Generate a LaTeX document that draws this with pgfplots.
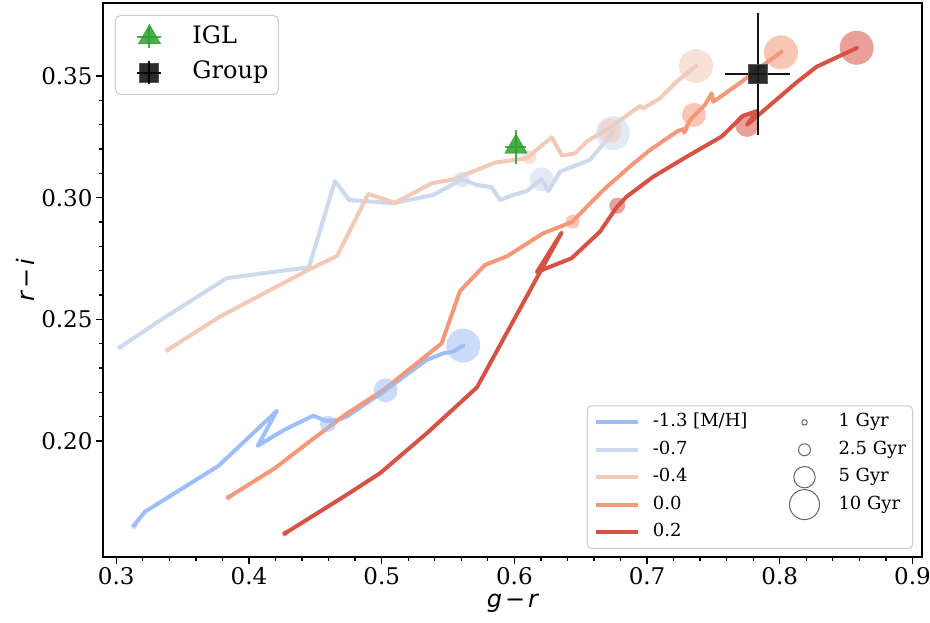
\documentclass[border=0pt]{standalone}
\usepackage{fontspec}
\setmainfont{DejaVu Serif}
\newfontfamily\dvsans{DejaVu Sans}
\usepackage{pgfplots}
\pgfplotsset{compat=1.18}

\definecolor{cA}{RGB}{158,190,250}
\definecolor{cB}{RGB}{205,217,236}
\definecolor{cC}{RGB}{242,202,183}
\definecolor{cD}{RGB}{244,152,122}
\definecolor{cE}{RGB}{214,82,68}
\definecolor{iglgreen}{RGB}{44,160,44}
\definecolor{legedge}{RGB}{204,204,204}
\definecolor{sqfill}{RGB}{26,26,26}
\definecolor{sqedge}{RGB}{80,80,80}

\pgfplotsset{
  base/.style={scale only axis, width=819pt, height=554pt,
    xmin=0.29, xmax=0.9072, ymin=0.1523, ymax=0.3800,
    at={(0pt,0pt)}, anchor=south west},
  circ/.style 2 args={only marks, mark=*, mark size=#2, forget plot,
    color=#1, draw=#1, fill=#1,
    mark options={draw=#1, fill=#1, draw opacity=0, fill opacity=0.55, line width=0pt}},
  ln/.style={no markers, forget plot, color=#1, line width=4pt,
    line cap=round, line join=round},
  agecirc/.style={legend image code/.code={
    \path[draw=none, fill=none] (0pt,-3pt) rectangle (42pt,3pt);
    \draw[overlay, draw=black!60, fill=none, line width=1pt] (21pt,0pt) circle (#1);}},
}

\begin{document}
\begin{tikzpicture}
\begin{axis}[base,
  axis line style={line width=1.6pt},
  tick align=outside, xtick pos=bottom, ytick pos=left,
  major tick length=7pt, minor tick length=4pt,
  every tick/.style={black, line width=1.3pt},
  xtick={0.3,0.4,0.5,0.6,0.7,0.8,0.9},
  ytick={0.20,0.25,0.30,0.35},
  minor x tick num=4, minor y tick num=4,
  xticklabel style={/pgf/number format/.cd, fixed, fixed zerofill, precision=1, assume math mode=true},
  yticklabel style={/pgf/number format/.cd, fixed, fixed zerofill, precision=2, assume math mode=true},
  tick label style={font=\fontsize{23}{27}\selectfont},
  xlabel={{\dvsans\itshape g}\hspace{3pt}{\dvsans −}\hspace{3pt}{\dvsans\itshape r}},
  ylabel={{\dvsans\itshape r}\hspace{3pt}{\dvsans −}\hspace{3pt}{\dvsans\itshape i}},
  label style={font=\fontsize{24}{28}\selectfont},
  xlabel style={at={(axis description cs:0.5,0)}, anchor=center, yshift=-46pt},
  ylabel style={at={(axis description cs:0,0.5)}, anchor=center, yshift=78pt},
  legend columns=2, legend cell align=left,
  legend style={font=\fontsize{18}{21}\selectfont,
    at={(axis description cs:1,0)}, anchor=south east, xshift=-9pt, yshift=8pt,
    draw=legedge, line width=1pt, rounded corners=4pt, fill=white,
    inner xsep=6.5pt, inner ysep=8pt, column sep=13pt, row sep=10.4pt,
    /tikz/every even column/.append style={column sep=36pt},
    nodes={inner sep=0pt, text height=13pt, text depth=4pt}},
  legend image code/.code={\draw[#1] (0pt,0pt) -- (42pt,0pt);},
]
% ---- age circles (1, 2.5, 5, 10 Gyr) ----
\addplot[circ={cA}{3}]  coordinates {(0.3133,0.1650)};
\addplot[circ={cA}{8}]  coordinates {(0.4595,0.2070)};
\addplot[circ={cA}{12}] coordinates {(0.5030,0.2208)};
\addplot[circ={cA}{17}] coordinates {(0.5615,0.2392)};
\addplot[circ={cB}{3}]  coordinates {(0.3028,0.2385)};
\addplot[circ={cB}{8}]  coordinates {(0.5603,0.3075)};
\addplot[circ={cB}{12}] coordinates {(0.6206,0.3075)};
\addplot[circ={cB}{17}] coordinates {(0.6743,0.3265)};
\addplot[circ={cC}{3}]  coordinates {(0.3387,0.2374)};
\addplot[circ={cC}{7}]  coordinates {(0.6112,0.3166)};
\addplot[circ={cC}{12}] coordinates {(0.6720,0.3274)};
\addplot[circ={cC}{17}] coordinates {(0.7369,0.3541)};
\addplot[circ={cD}{3}]  coordinates {(0.3844,0.1768)};
\addplot[circ={cD}{7}]  coordinates {(0.6439,0.2901)};
\addplot[circ={cD}{12}] coordinates {(0.7353,0.3340)};
\addplot[circ={cD}{17}] coordinates {(0.8009,0.3597)};
\addplot[circ={cE}{3}]  coordinates {(0.4271,0.1620)};
\addplot[circ={cE}{8}]  coordinates {(0.6775,0.2967)};
\addplot[circ={cE}{12}] coordinates {(0.7753,0.3299)};
\addplot[circ={cE}{17}] coordinates {(0.8580,0.3616)};
% ---- model tracks ----
\addplot[ln=cA] coordinates {
(0.3133,0.1652) (0.3216,0.1709) (0.3769,0.1897) (0.4211,0.2124)
(0.4066,0.1980) (0.4264,0.2045) (0.4485,0.2104) (0.4580,0.2082)
(0.4671,0.2086) (0.4736,0.2100) (0.5012,0.2202) (0.5339,0.2333)
(0.5464,0.2360) (0.5540,0.2367) (0.5615,0.2392)};
\addplot[ln=cB] coordinates {
(0.3028,0.2385) (0.3304,0.2486) (0.3832,0.2669) (0.4452,0.2714)
(0.4648,0.3068) (0.4756,0.2990) (0.5087,0.2977) (0.5389,0.3011)
(0.5603,0.3075) (0.5716,0.3052) (0.5829,0.3043) (0.5892,0.2990)
(0.5992,0.3011) (0.6093,0.3027) (0.6206,0.3075) (0.6256,0.3027)
(0.6344,0.3107) (0.6570,0.3155) (0.6743,0.3270)};
\addplot[ln=cC] coordinates {
(0.3387,0.2374) (0.3781,0.2511) (0.4447,0.2703) (0.4663,0.2760)
(0.4899,0.3015) (0.5100,0.2979) (0.5377,0.3059) (0.5540,0.3075)
(0.5854,0.3144) (0.6093,0.3162) (0.6281,0.3248) (0.6359,0.3173)
(0.6457,0.3182) (0.6545,0.3230) (0.6733,0.3292) (0.6947,0.3377)
(0.6971,0.3367) (0.7097,0.3408) (0.7223,0.3477) (0.7369,0.3541)};
\addplot[ln=cD] coordinates {
(0.3844,0.1768) (0.4196,0.1888) (0.4422,0.1983) (0.4723,0.2107)
(0.5012,0.2209) (0.5452,0.2401) (0.5590,0.2616) (0.5778,0.2723)
(0.5948,0.2760) (0.6212,0.2852) (0.6434,0.2900) (0.6670,0.3031)
(0.6884,0.3134) (0.7022,0.3196) (0.7233,0.3274) (0.7301,0.3286)
(0.7278,0.3266) (0.7323,0.3319) (0.7436,0.3381) (0.7487,0.3429)
(0.7499,0.3394) (0.7700,0.3471) (0.7826,0.3525) (0.8014,0.3600)};
\addplot[ln=cE] coordinates {
(0.4271,0.1620) (0.4723,0.1774) (0.4987,0.1867) (0.5339,0.2031)
(0.5718,0.2220) (0.6356,0.2856) (0.6170,0.2694) (0.6432,0.2751)
(0.6645,0.2860) (0.6773,0.2962) (0.6846,0.3004) (0.7047,0.3086)
(0.7298,0.3168) (0.7562,0.3251) (0.7723,0.3336) (0.7828,0.3356)
(0.7753,0.3299) (0.8130,0.3475) (0.8278,0.3538) (0.8580,0.3615)};
% ---- legend (metallicity / age) ----
\addlegendimage{cA, line width=4pt}
\addlegendentry{-1.3 [M/H]}
\addlegendimage{agecirc=2.7pt}
\addlegendentry{1 Gyr}
\addlegendimage{cB, line width=4pt}
\addlegendentry{-0.7}
\addlegendimage{agecirc=6pt}
\addlegendentry{2.5 Gyr}
\addlegendimage{cC, line width=4pt}
\addlegendentry{-0.4}
\addlegendimage{agecirc=10.7pt}
\addlegendentry{5 Gyr}
\addlegendimage{cD, line width=4pt}
\addlegendentry{0.0}
\addlegendimage{agecirc=15pt}
\addlegendentry{10 Gyr}
\addlegendimage{cE, line width=4pt}
\addlegendentry{0.2}
\end{axis}

\begin{axis}[base, hide axis,
  legend cell align=left,
  legend style={font=\fontsize{24}{28}\selectfont,
    at={(axis description cs:0,1)}, anchor=north west, xshift=12pt, yshift=-12pt,
    draw=legedge, line width=1pt, rounded corners=5pt, fill=white,
    inner xsep=10pt, inner ysep=9pt, column sep=19pt, row sep=11pt,
    nodes={inner sep=0pt, text height=18pt, text depth=6pt}},
]
\addplot[only marks, mark=triangle*, mark size=13pt,
  color=iglgreen, opacity=0.85,
  legend image code/.code={
    \path[draw=none, fill=none] (0pt,-3pt) rectangle (48pt,3pt);
    \draw[iglgreen, opacity=0.85, line width=2pt, sharp corners]
      (12pt,0pt) -- (36pt,0pt) (24pt,-11pt) -- (24pt,11pt);
    \draw[iglgreen, fill=iglgreen, opacity=0.85, sharp corners, line width=0.5pt]
      plot[only marks, mark=triangle*, mark size=13pt] coordinates {(24pt,0pt)};},
  error bars/.cd, x dir=both, x explicit, y dir=both, y explicit,
  error mark=none, error bar style={line width=2pt, iglgreen}]
  table[x error=ex, y error=ey] {
x y ex ey
0.6012 0.3209 0.0079 0.0071
};
\addlegendentry{IGL}
\addplot[only marks, mark=square*, mark size=9.5pt,
  mark options={draw=sqedge, fill=sqfill, line width=1pt}, opacity=0.92,
  legend image code/.code={
    \path[draw=none, fill=none] (0pt,-3pt) rectangle (48pt,3pt);
    \draw[draw=sqedge, fill=sqfill, opacity=0.92, sharp corners, line width=1pt]
      plot[only marks, mark=square*, mark size=9.5pt] coordinates {(24pt,0pt)};
    \draw[black, line width=2pt, sharp corners]
      (12pt,0pt) -- (36pt,0pt) (24pt,-11.5pt) -- (24pt,11.5pt);},
  error bars/.cd, x dir=both, x explicit, y dir=both, y explicit,
  error mark=none, error bar style={line width=2pt, black}]
  table[x error=ex, y error=ey] {
x y ex ey
0.7833 0.3508 0.0245 0.0251
};
\addlegendentry{Group}
\end{axis}
\pgfresetboundingbox
\path (-103pt,-66pt) rectangle (827pt,557pt);
\end{tikzpicture}
\end{document}
